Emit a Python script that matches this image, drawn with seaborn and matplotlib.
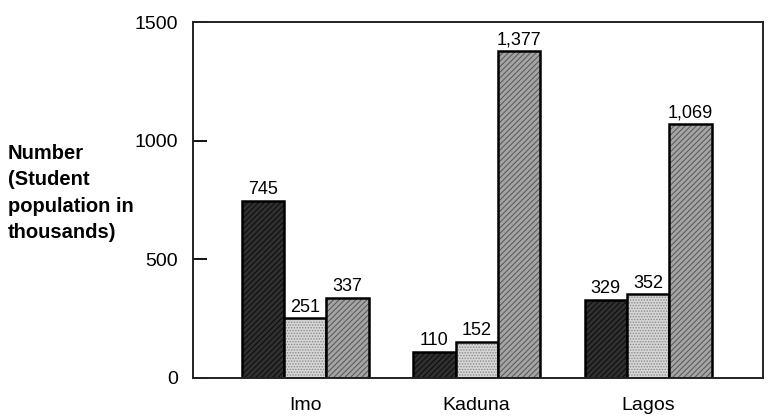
import matplotlib
matplotlib.use("Agg")
import matplotlib.pyplot as plt
import seaborn as sns
import pandas as pd

# Values (student population, thousands)
states = ["Imo", "Kaduna", "Lagos"]
series = ["Series 1", "Series 2", "Series 3"]
series1 = [745, 110, 329]
series2 = [251, 152, 352]
series3 = [337, 1377, 1069]
yticks = [0, 500, 1000, 1500]

df = pd.DataFrame({
    "state": states * 3,
    "series": [series[0]] * 3 + [series[1]] * 3 + [series[2]] * 3,
    "value": series1 + series2 + series3,
})

sns.set_style("white")
plt.rcParams["font.family"] = ["Liberation Sans", "DejaVu Sans"]
plt.rcParams["hatch.linewidth"] = 0.7
plt.rcParams["text.color"] = "black"
plt.rcParams["xtick.color"] = "black"
plt.rcParams["ytick.color"] = "black"

fig = plt.figure(figsize=(7.81, 4.17), dpi=100)
ax = fig.add_axes([193 / 781, 1 - 378 / 417, 570 / 781, 356 / 417])

face = ["#303030", "#d6d6d6", "#a4a4a4"]
sns.barplot(data=df, x="state", y="value", hue="series", hue_order=series,
            palette=face, width=0.74, legend=False, ax=ax,
            edgecolor="black", linewidth=1.8, saturation=1)

hatches = ["//////", "......", "//////"]
hatch_cols = ["#0a0a0a", "#8a8a8a", "#555555"]
for cont, h, hc in zip(ax.containers, hatches, hatch_cols):
    for bar in cont:
        bar.set_hatch(h)
        bar._hatch_color = matplotlib.colors.to_rgba(hc)
    ax.bar_label(cont, labels=[f"{int(v):,}" for v in cont.datavalues],
                 padding=2, fontsize=13, color="black")

ax.set_xlim(-0.655, 2.67)
ax.set_ylim(0, 1500)
ax.set_yticks(yticks)
ax.set_yticklabels([str(t) for t in yticks])
ax.tick_params(axis="y", direction="in", length=10, width=1.3, pad=11,
               labelsize=14, left=True)
ax.tick_params(axis="x", length=0, pad=14, labelsize=14)
ax.set_xlabel("")
ax.set_ylabel("")
for s in ax.spines.values():
    s.set_color("#222222")
    s.set_linewidth(1.4)

fig.text(8 / 781, 1 - 193 / 417, "Number\n(Student\npopulation in\nthousands)",
         fontsize=14.5, fontweight="bold", ha="left", va="center",
         linespacing=1.5)

fig.savefig("out.png", dpi=100)
